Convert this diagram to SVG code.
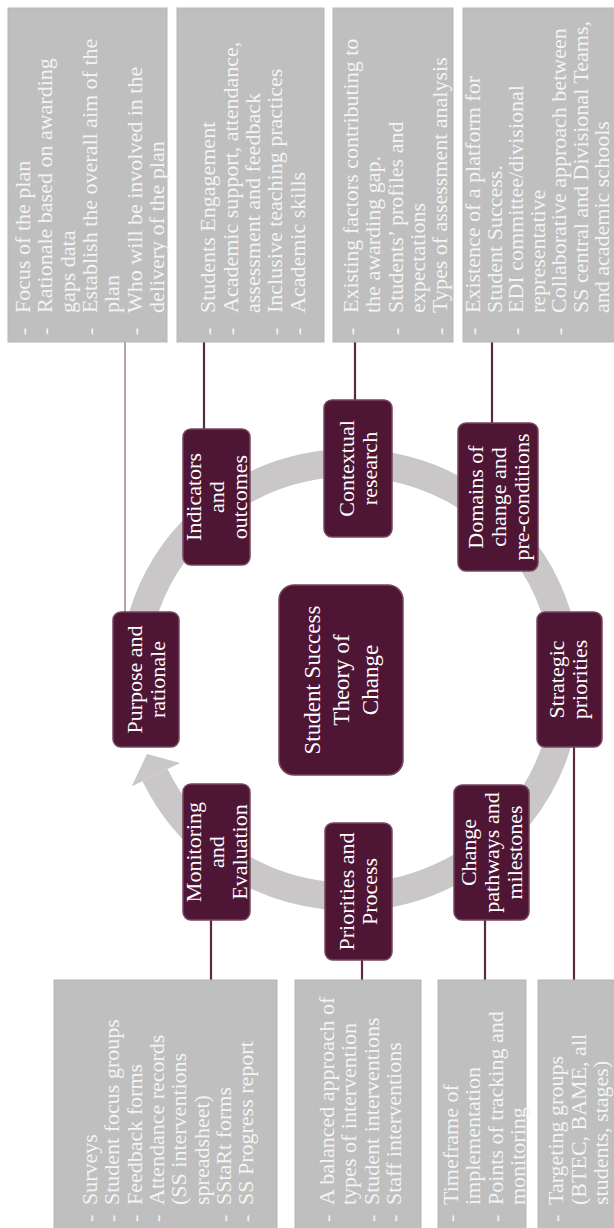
<svg xmlns="http://www.w3.org/2000/svg" width="614" height="1228" viewBox="0 0 614 1228">
<style>
.box{fill:#bfbfbf;stroke:#b7b7b7;stroke-width:1}
.bt{font-family:"Liberation Serif",serif;font-size:22px;fill:#f4f4f4}
.nd{fill:#4e1535;stroke:#76465e;stroke-width:1.5}
.nt{font-family:"Liberation Serif",serif;font-size:22px;fill:#ffffff;text-anchor:middle}
.ct{font-family:"Liberation Serif",serif;font-size:23px;fill:#ffffff;text-anchor:middle}
.conn{stroke:#5a2944;stroke-width:2.2;fill:none}
.connl{stroke:#a98a9b;stroke-width:1.6;fill:none}
.ring{stroke:#c9c7c7;stroke-width:28;fill:none}
</style>
<rect width="614" height="1228" fill="#ffffff"/>
<g transform="translate(0,1228) rotate(-90)">
  <g id="cycle-ring">
    <path class="ring" d="M 510.3 136.3 A 217 217 0 1 1 452.9 155.0"/>
    <polygon points="474,147 441.5,131.6 465.1,180.1" fill="#c9c7c7"/>
  </g>
  <g id="connectors">
    <line class="connl" x1="616" y1="125" x2="886" y2="125"/>
    <line class="conn" x1="790" y1="204" x2="886" y2="204"/>
    <line class="conn" x1="820" y1="355" x2="886" y2="355"/>
    <line class="conn" x1="800" y1="492" x2="886" y2="492"/>
    <line class="conn" x1="248" y1="574" x2="485" y2="574"/>
    <line class="conn" x1="248" y1="485" x2="312" y2="485"/>
    <line class="conn" x1="248" y1="362" x2="272" y2="362"/>
    <line class="conn" x1="248" y1="211" x2="312" y2="211"/>
  </g>
  <g id="box-purpose-details">
    <rect class="box" x="886" y="8" width="334" height="159"/>
    <text class="bt">
      <tspan x="893" y="30.1">-</tspan><tspan x="915" y="30.1">Focus of the plan</tspan>
      <tspan x="893" y="52.4">-</tspan><tspan x="915" y="52.4">Rationale based on awarding</tspan>
      <tspan x="915" y="74.7">gaps data</tspan>
      <tspan x="893" y="97">-</tspan><tspan x="915" y="97">Establish the overall aim of the</tspan>
      <tspan x="915" y="119.3">plan</tspan>
      <tspan x="893" y="141.6">-</tspan><tspan x="915" y="141.6">Who will be involved in the</tspan>
      <tspan x="915" y="163.9">delivery of the plan</tspan>
    </text>
  </g>
  <g id="box-indicators-details">
    <rect class="box" x="886" y="177" width="334" height="147"/>
    <text class="bt">
      <tspan x="893" y="215.4">-</tspan><tspan x="915" y="215.4">Students Engagement</tspan>
      <tspan x="893" y="237.7">-</tspan><tspan x="915" y="237.7">Academic support, attendance,</tspan>
      <tspan x="915" y="260">assessment and feedback</tspan>
      <tspan x="893" y="282.3">-</tspan><tspan x="915" y="282.3">Inclusive teaching practices</tspan>
      <tspan x="893" y="304.6">-</tspan><tspan x="915" y="304.6">Academic skills</tspan>
    </text>
  </g>
  <g id="box-contextual-details">
    <rect class="box" x="886" y="333" width="334" height="120"/>
    <text class="bt">
      <tspan x="893" y="357.9">-</tspan><tspan x="915" y="357.9">Existing factors contributing to</tspan>
      <tspan x="915" y="380.2">the awarding gap.</tspan>
      <tspan x="893" y="402.5">-</tspan><tspan x="915" y="402.5">Students’ profiles and</tspan>
      <tspan x="915" y="424.8">expectations</tspan>
      <tspan x="893" y="447.1">-</tspan><tspan x="915" y="447.1">Types of assessment analysis</tspan>
    </text>
  </g>
  <g id="box-domains-details">
    <rect class="box" x="886" y="463" width="334" height="160"/>
    <text class="bt">
      <tspan x="893" y="480">-</tspan><tspan x="915" y="480">Existence of a platform for</tspan>
      <tspan x="915" y="501.5">Student Success.</tspan>
      <tspan x="893" y="523">-</tspan><tspan x="915" y="523">EDI committee/divisional</tspan>
      <tspan x="915" y="544.5">representative</tspan>
      <tspan x="893" y="566">-</tspan><tspan x="915" y="566">Collaborative approach between</tspan>
      <tspan x="915" y="587.5">SS central and Divisional Teams,</tspan>
      <tspan x="915" y="608.5">and academic schools</tspan>
    </text>
  </g>
  <g id="box-monitoring-details">
    <rect class="box" x="-10" y="54" width="258" height="223"/>
    <text class="bt">
      <tspan x="6" y="97">-</tspan><tspan x="23" y="97">Surveys</tspan>
      <tspan x="6" y="119.3">-</tspan><tspan x="23" y="119.3">Student focus groups</tspan>
      <tspan x="6" y="141.6">-</tspan><tspan x="23" y="141.6">Feedback forms</tspan>
      <tspan x="6" y="163.9">-</tspan><tspan x="23" y="163.9">Attendance records</tspan>
      <tspan x="23" y="186.2">(SS interventions</tspan>
      <tspan x="23" y="208.5">spreadsheet)</tspan>
      <tspan x="6" y="230.8">-</tspan><tspan x="23" y="230.8">SStaRt forms</tspan>
      <tspan x="6" y="253.1">-</tspan><tspan x="23" y="253.1">SS Progress report</tspan>
    </text>
  </g>
  <g id="box-priorities-details">
    <rect class="box" x="-10" y="295" width="258" height="126"/>
    <text class="bt">
      <tspan x="6" y="334">-</tspan><tspan x="23" y="334">A balanced approach of</tspan>
      <tspan x="23" y="356.3">types of intervention</tspan>
      <tspan x="6" y="378.6">-</tspan><tspan x="23" y="378.6">Student interventions</tspan>
      <tspan x="6" y="400.9">-</tspan><tspan x="23" y="400.9">Staff interventions</tspan>
    </text>
  </g>
  <g id="box-change-details">
    <rect class="box" x="-10" y="438" width="258" height="88"/>
    <text class="bt">
      <tspan x="6" y="458">-</tspan><tspan x="23" y="458">Timeframe of</tspan>
      <tspan x="23" y="480.3">implementation</tspan>
      <tspan x="6" y="502.6">-</tspan><tspan x="23" y="502.6">Points of tracking and</tspan>
      <tspan x="23" y="524.9">monitoring</tspan>
    </text>
  </g>
  <g id="box-strategic-details">
    <rect class="box" x="-10" y="538" width="258" height="86"/>
    <text class="bt">
      <tspan x="6" y="563.2">-</tspan><tspan x="23" y="563.2">Targeting groups</tspan>
      <tspan x="23" y="585.5">(BTEC, BAME, all</tspan>
      <tspan x="23" y="607.8">students, stages)</tspan>
    </text>
  </g>
  <g id="node-central">
    <rect class="nd" x="453" y="279" width="190" height="124" rx="15"/>
    <text class="ct"><tspan x="548" y="320">Student Success</tspan><tspan x="548" y="349">Theory of</tspan><tspan x="548" y="378">Change</tspan></text>
  </g>
  <g id="node-purpose">
    <rect class="nd" x="481" y="113" width="135" height="66" rx="8"/>
    <text class="nt"><tspan x="548.5" y="141.5">Purpose and</tspan><tspan x="548.5" y="164.5">rationale</tspan></text>
  </g>
  <g id="node-indicators">
    <rect class="nd" x="663" y="183" width="136" height="67" rx="8"/>
    <text class="nt"><tspan x="731" y="201">Indicators</tspan><tspan x="731" y="224">and</tspan><tspan x="731" y="247">outcomes</tspan></text>
  </g>
  <g id="node-contextual">
    <rect class="nd" x="691" y="324" width="137" height="68" rx="8"/>
    <text class="nt"><tspan x="759.5" y="353.5">Contextual</tspan><tspan x="759.5" y="376.5">research</tspan></text>
  </g>
  <g id="node-domains">
    <rect class="nd" x="657" y="458" width="148" height="80" rx="8"/>
    <text class="nt"><tspan x="731" y="482.5">Domains of</tspan><tspan x="731" y="505.5">change and</tspan><tspan x="731" y="528.5">pre-conditions</tspan></text>
  </g>
  <g id="node-strategic">
    <rect class="nd" x="481" y="537" width="135" height="65" rx="8"/>
    <text class="nt"><tspan x="548.5" y="564">Strategic</tspan><tspan x="548.5" y="587">priorities</tspan></text>
  </g>
  <g id="node-change">
    <rect class="nd" x="308" y="454" width="135" height="75" rx="8"/>
    <text class="nt"><tspan x="375.5" y="476">Change</tspan><tspan x="375.5" y="499">pathways and</tspan><tspan x="375.5" y="522">milestones</tspan></text>
  </g>
  <g id="node-priorities">
    <rect class="nd" x="268" y="325" width="137" height="67" rx="8"/>
    <text class="nt"><tspan x="336.5" y="354">Priorities and</tspan><tspan x="336.5" y="377">Process</tspan></text>
  </g>
  <g id="node-monitoring">
    <rect class="nd" x="308" y="183" width="136" height="67" rx="8"/>
    <text class="nt"><tspan x="376" y="201">Monitoring</tspan><tspan x="376" y="224">and</tspan><tspan x="376" y="247">Evaluation</tspan></text>
  </g>
</g>
</svg>
